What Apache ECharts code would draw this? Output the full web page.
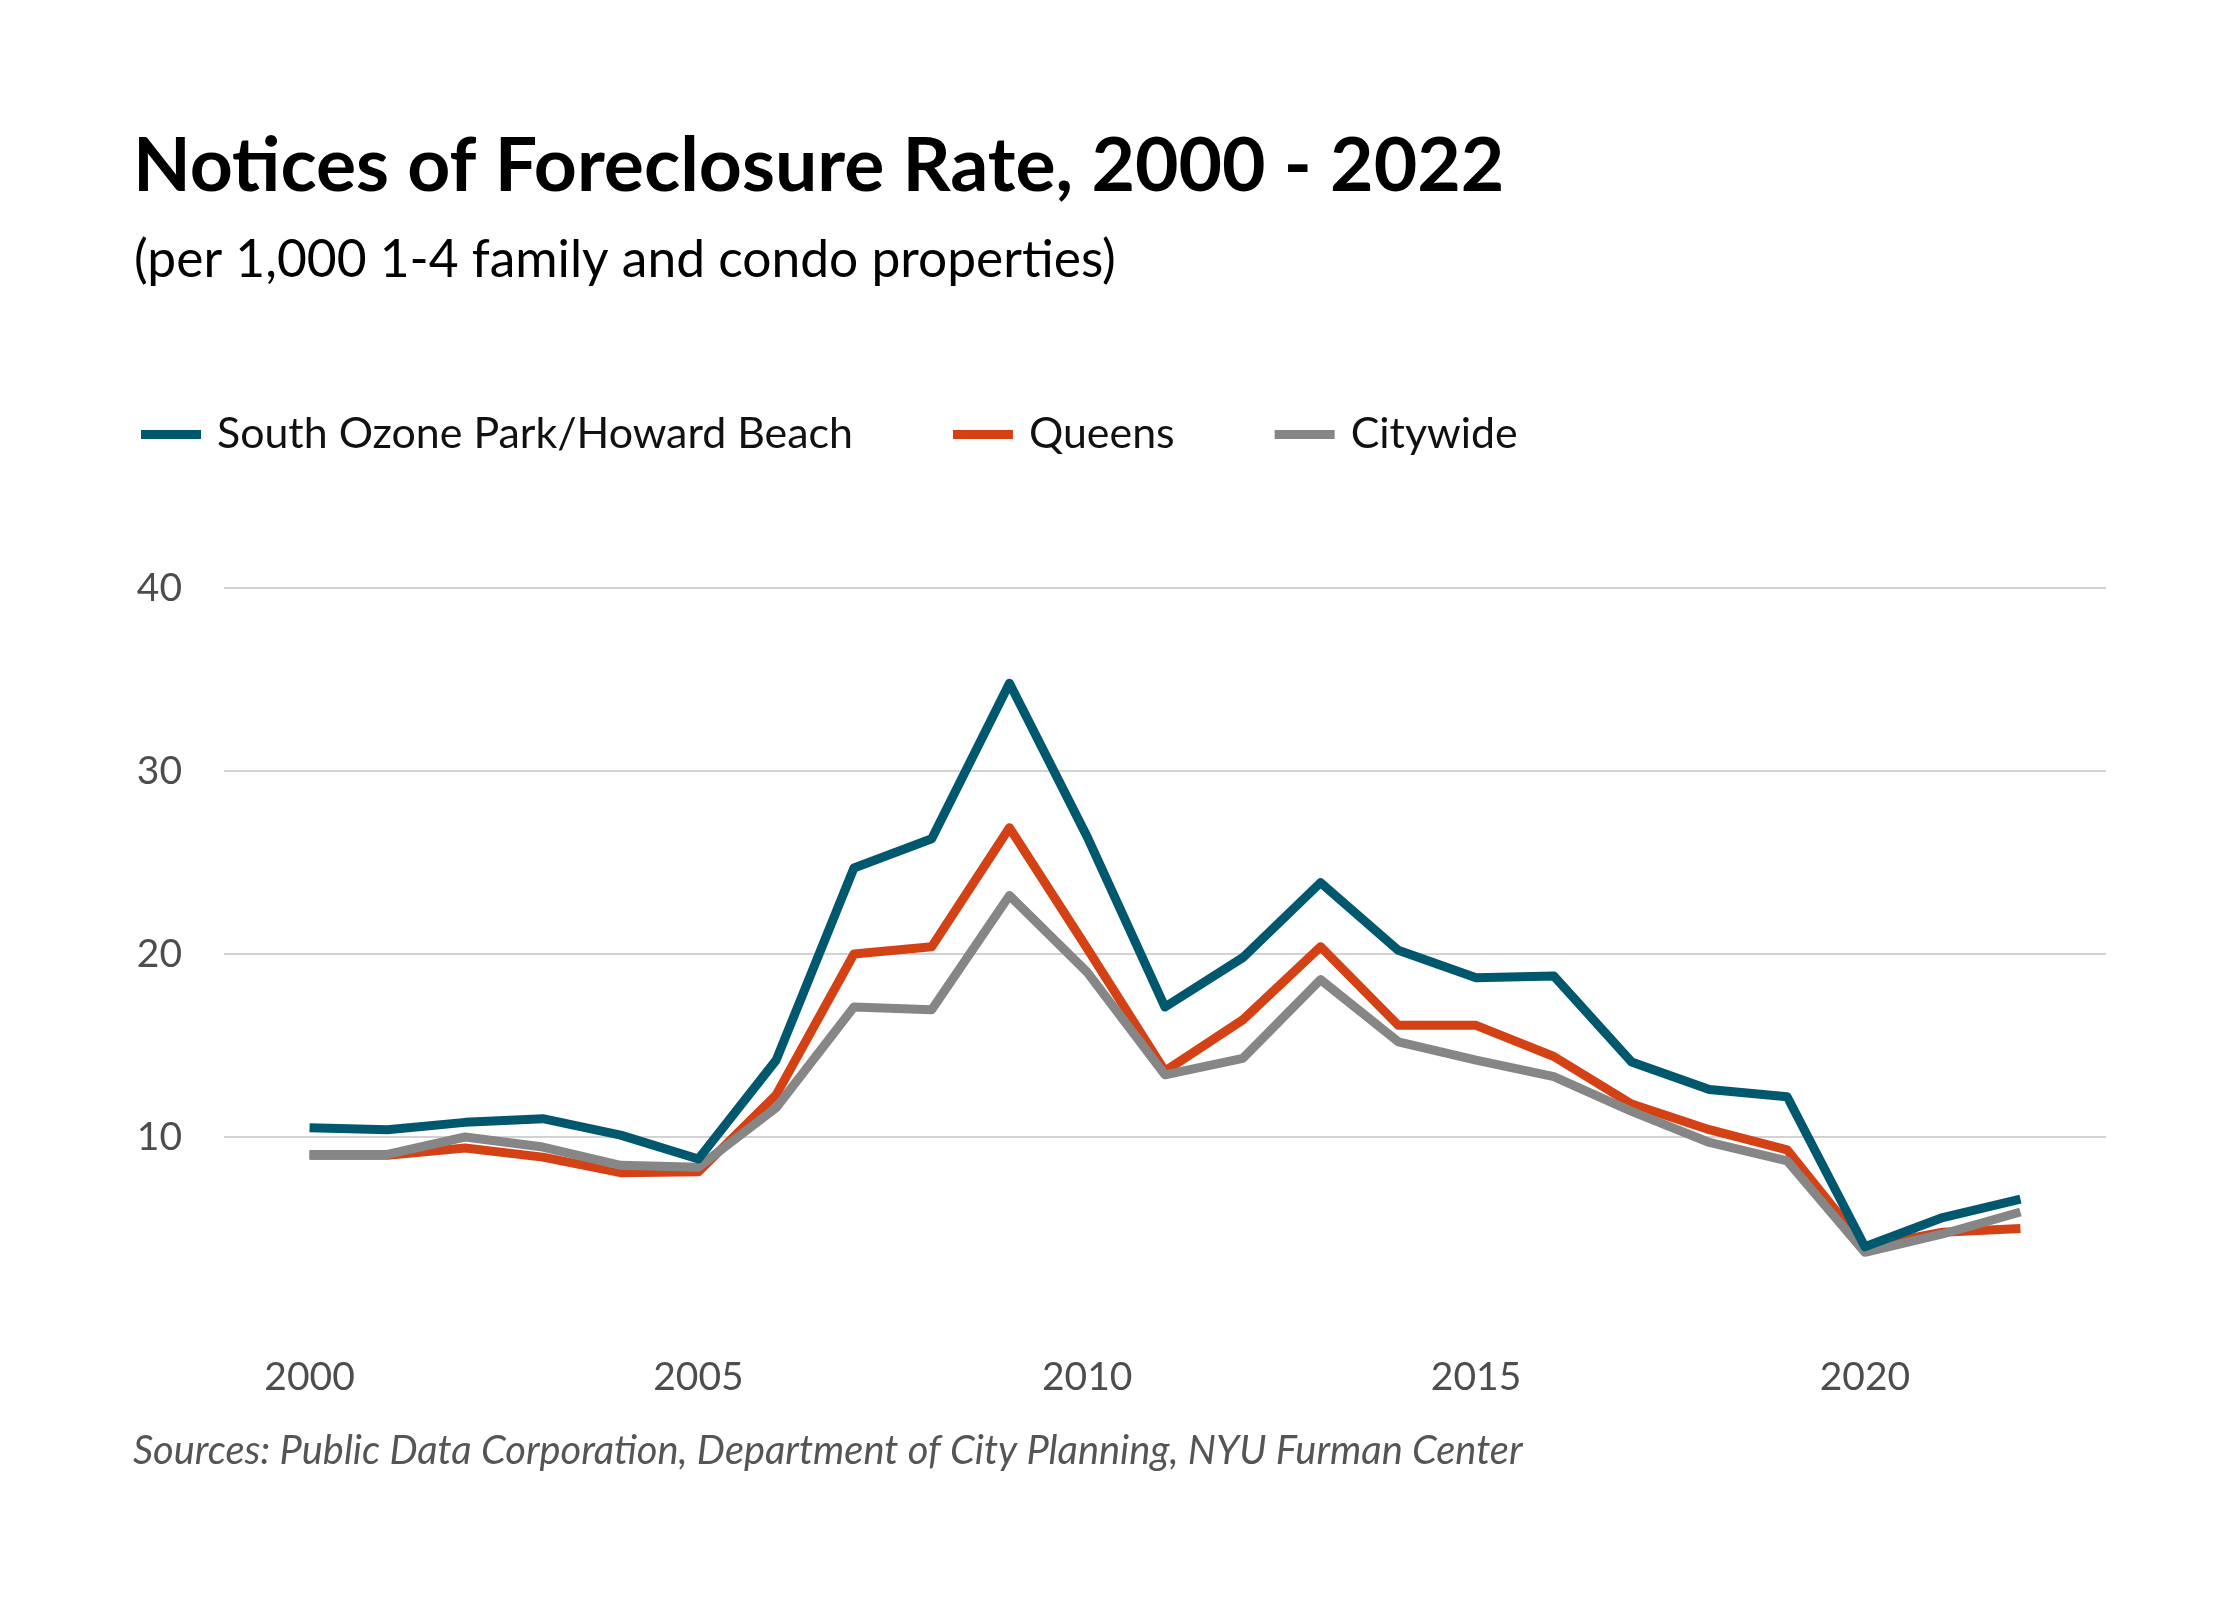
<!DOCTYPE html>
<html>
<head>
<meta charset="utf-8">
<script src="https://cdn.jsdelivr.net/npm/echarts@6/dist/echarts.min.js"></script>
<style>
  html, body { margin: 0; padding: 0; background: #ffffff; }
  #chart { width: 2240px; height: 1600px; }
</style>
</head>
<body>
<div id="chart"></div>
<script>
// ---- data ----
const years = [2000, 2001, 2002, 2003, 2004, 2005, 2006, 2007, 2008, 2009, 2010,
               2011, 2012, 2013, 2014, 2015, 2016, 2017, 2018, 2019, 2020, 2021, 2022];
const southOzone = [10.5, 10.4, 10.8, 11.0, 10.1, 8.8, 14.2, 24.7, 26.3, 34.8, 26.4,
                    17.1, 19.8, 23.9, 20.2, 18.7, 18.8, 14.1, 12.6, 12.2, 4.0, 5.6, 6.6];
const queens = [9.0, 9.0, 9.4, 8.9, 8.05, 8.1, 12.3, 20.0, 20.4, 26.9, 20.3,
                13.6, 16.4, 20.4, 16.1, 16.1, 14.4, 11.8, 10.4, 9.3, 4.0, 4.8, 5.0];
const citywide = [9.05, 9.05, 10.0, 9.45, 8.45, 8.35, 11.6, 17.1, 16.95, 23.2, 19.0,
                  13.4, 14.3, 18.6, 15.2, 14.2, 13.3, 11.4, 9.7, 8.7, 3.7, 4.7, 5.9];
const seriesNames = ['South Ozone Park/Howard Beach', 'Queens', 'Citywide'];
const xTickLabels = [2000, 2005, 2010, 2015, 2020];
const yTicks = [0, 10, 20, 30, 40];
const titleText = 'Notices of Foreclosure Rate, 2000 - 2022';
const subtitleText = '(per 1,000 1-4 family and condo properties)';
const sourceText = 'Sources: Public Data Corporation, Department of City Planning, NYU Furman Center';

// ---- styling helpers ----
const FONT = 'Lato, "Open Sans", "DejaVu Sans", sans-serif';
const ctx = document.createElement('canvas').getContext('2d');
function fitSize(text, weight, style, target) {
  ctx.font = style + ' ' + weight + ' 100px ' + FONT;
  return Math.round(100 * target / ctx.measureText(text).width * 10) / 10;
}
const titleSize = fitSize(titleText, 'bold', 'normal', 1371);
const subSize = fitSize(subtitleText, 'normal', 'normal', 981);
const legendSize = fitSize(seriesNames[0], 'normal', 'normal', 636);
const sourceSize = fitSize(sourceText, 'normal', 'italic', 1388);
const axisSize = 39;

const colors = ['#00586f', '#d44115', '#868686'];

const chart = echarts.init(document.getElementById('chart'), null, { renderer: 'canvas' });

function pairs(vals) { return years.map((y, i) => [y, vals[i]]); }

const option = {
  animation: false,
  backgroundColor: '#ffffff',
  title: [
    {
      text: titleText, left: 133, top: 166.5 - titleSize / 2, padding: 0,
      textStyle: { fontFamily: FONT, fontWeight: 'bold', fontSize: titleSize, lineHeight: titleSize, color: '#000000' }
    },
    {
      text: subtitleText, left: 134, top: 260.5 - subSize / 2, padding: 0,
      textStyle: { fontFamily: FONT, fontWeight: 'normal', fontSize: subSize, lineHeight: subSize, color: '#000000' }
    },
    {
      text: sourceText, left: 133, top: 1451 - sourceSize / 2, padding: 0,
      textStyle: { fontFamily: FONT, fontStyle: 'italic', fontWeight: 'normal', fontSize: sourceSize, lineHeight: sourceSize, color: '#555555' }
    }
  ],
  legend: {
    data: seriesNames,
    left: 141,
    top: 434.5 - legendSize / 2,
    padding: 0,
    icon: 'rect',
    itemWidth: 60,
    itemHeight: 9,
    itemGap: 100,
    selectedMode: false,
    textStyle: { fontFamily: FONT, fontSize: legendSize, lineHeight: legendSize, color: '#111111', padding: [0, 0, 0, 11] }
  },
  grid: { left: 224, right: 134, top: 588, bottom: 280, containLabel: false },
  xAxis: {
    type: 'value',
    min: 1998.9,
    max: 2023.1,
    axisLine: { show: false },
    axisTick: { show: false },
    splitLine: { show: false },
    axisLabel: {
      customValues: xTickLabels,
      margin: 38,
      fontFamily: FONT, fontSize: axisSize, color: '#4d4d4d',
      formatter: v => String(v)
    }
  },
  yAxis: {
    type: 'value',
    min: yTicks[0],
    max: yTicks[yTicks.length - 1],
    interval: 10,
    axisLine: { show: false },
    axisTick: { show: false },
    splitLine: { show: true, showMinLine: false, lineStyle: { color: '#d2d2d2', width: 2 } },
    axisLabel: {
      showMinLabel: false,
      margin: 42,
      fontFamily: FONT, fontSize: axisSize, color: '#4d4d4d',
      formatter: v => String(v)
    }
  },
  series: [
    { name: seriesNames[0], data: pairs(southOzone), z: 4 },
    { name: seriesNames[1], data: pairs(queens), z: 2 },
    { name: seriesNames[2], data: pairs(citywide), z: 3 }
  ].map((s, i) => Object.assign({
    type: 'line',
    showSymbol: false,
    symbol: 'none',
    silent: true,
    color: colors[i],
    lineStyle: { width: 9, color: colors[i], join: 'round', cap: 'butt' },
    emphasis: { disabled: true }
  }, s))
};

chart.setOption(option);
</script>
</body>
</html>
